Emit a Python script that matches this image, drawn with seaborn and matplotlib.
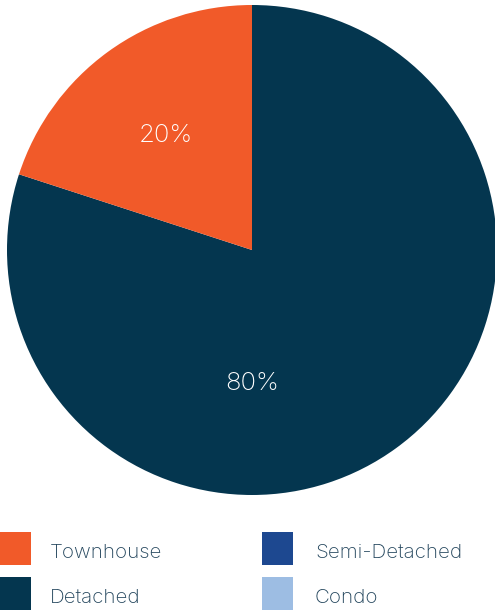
import matplotlib
matplotlib.use("Agg")
import matplotlib.pyplot as plt
from matplotlib.patches import Rectangle
import numpy as np
import seaborn as sns

# Housing type mix
categories = ["Detached", "Townhouse", "Semi-Detached", "Condo"]
shares = [80, 20, 0, 0]
colors = ["#04364F", "#F15A29", "#1D4890", "#9DBDE3"]
legend_order = ["Townhouse", "Semi-Detached", "Detached", "Condo"]

sns.set_theme(style="white")
plt.rcParams["font.family"] = ["Inter", "DejaVu Sans"]

fig = plt.figure(figsize=(4.95, 6.13), dpi=100)
ax = fig.add_axes([7 / 495, (613 - 495) / 613, 490 / 495, 490 / 613])

vals = [v for v in shares if v > 0]
cols = [c for v, c in zip(shares, colors) if v > 0]
wedges, _ = ax.pie(vals, colors=cols, startangle=90, counterclock=False,
                   radius=1.0, wedgeprops=dict(linewidth=0))
ax.set_xlim(-1, 1)
ax.set_ylim(-1, 1)
ax.set_aspect("equal")
ax.axis("off")

# percentage labels
for w, v in zip(wedges, vals):
    mid = np.deg2rad((w.theta1 + w.theta2) / 2)
    if v >= 50:
        x, y = 0.0, -0.545
    else:
        x, y = 0.6 * np.cos(mid), 0.6 * np.sin(mid) - 0.018
    ax.text(x, y, f"{v}%", ha="center", va="center", color="white",
            fontsize=18.5, fontweight="light")

# legend in two columns
text_color = "#24465D"
cmap = dict(zip(categories, colors))
rows_y = [532, 577]
cols_x = [(0, 50), (262, 315)]
for i, name in enumerate(legend_order):
    r, c = divmod(i, 2)
    sx, tx = cols_x[c]
    top = rows_y[r]
    fig.add_artist(Rectangle((sx / 495, 1 - (top + 33) / 613), 31 / 495, 33 / 613,
                             transform=fig.transFigure, color=cmap[name], lw=0))
    fig.text(tx / 495, 1 - (top + 21) / 613, name, ha="left", va="center",
             color=text_color, fontsize=14.8, fontweight="light")

fig.savefig("out.png", dpi=100)
